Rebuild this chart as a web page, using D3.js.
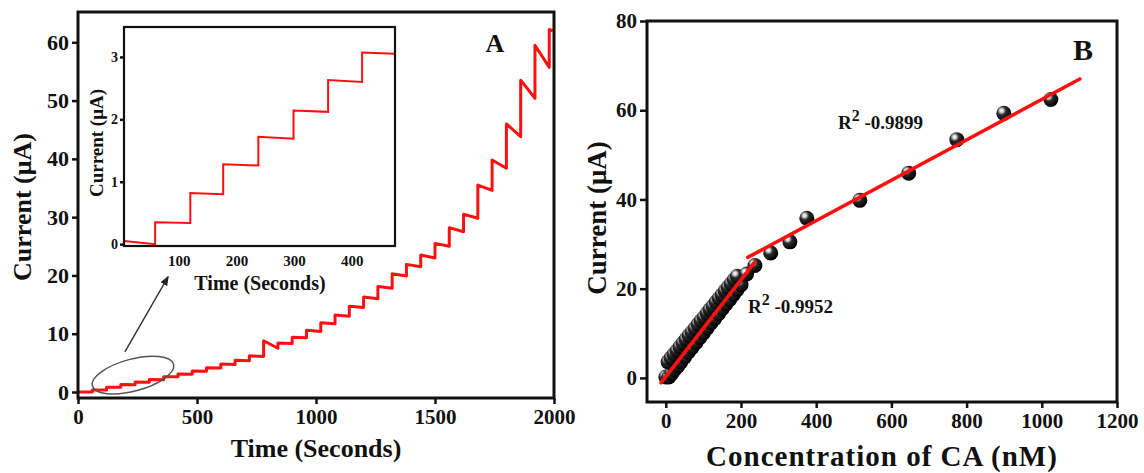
<!DOCTYPE html>
<html>
<head>
<meta charset="utf-8">
<script src="https://cdn.jsdelivr.net/npm/d3@7"></script>
<style>
  body { margin: 0; background: #fff; }
  svg text { font-family: "Liberation Serif", "Times New Roman", serif; font-weight: bold; fill: #111; }
</style>
</head>
<body>
<svg id="chart" width="1144" height="473"></svg>
<script>
// ---- panel A : amperometric response (steps every ~60 s)
const stepTimes = [0, 60, 120, 180, 240, 300, 360, 420, 480, 540, 600, 660, 720, 780, 840, 900, 960,
  1020, 1080, 1140, 1200, 1260, 1320, 1380, 1440, 1500, 1560, 1620, 1680, 1740, 1800, 1860, 1920, 1980];
const stepPeak = [0, 0.35, 0.82, 1.28, 1.72, 2.15, 2.62, 3.07, 3.6, 4.15, 4.8, 5.45, 6.2, 8.8, 8.4, 9.4, 10.6,
  11.9, 13.2, 14.7, 16.3, 18.1, 20.3, 21.9, 23.5, 25.5, 28.2, 30.5, 35.5, 39.8, 46.0, 53.5, 59.5, 62.2];
const stepEnd = [0, 0.35, 0.8, 1.26, 1.69, 2.12, 2.6, 3.04, 3.55, 4.1, 4.7, 5.35, 6.1, 7.5, 8.3, 9.3, 10.4,
  11.7, 13.0, 14.5, 16.0, 17.8, 19.9, 21.5, 23.0, 25.0, 27.5, 29.8, 34.6, 38.4, 43.8, 50.4, 55.7, 62.0];
const runEndA = 1995;
const ticksAx = [0, 500, 1000, 1500, 2000];
const ticksAy = [0, 10, 20, 30, 40, 50, 60];

// inset : first 475 s
const insetTimes = [5, 59, 120, 177, 238, 299, 359, 418];
const insetPeak = [0.05, 0.35, 0.82, 1.28, 1.72, 2.14, 2.63, 3.07];
const insetEnd = [0.0, 0.34, 0.8, 1.26, 1.69, 2.12, 2.6, 3.05];
const insetRunEnd = 475;
const ticksIx = [100, 200, 300, 400];
const ticksIy = [0, 1, 2, 3];

// ---- panel B : calibration
const lowConcA = [0, 8, 16, 24, 32, 40, 50, 60, 70, 80, 90, 100, 110, 120, 130, 140, 150, 160, 170, 180, 190, 200];
const lowCurrA = [0.2, 0.2, 1.0, 1.9, 2.7, 3.6, 4.7, 5.8, 6.8, 7.9, 9.0, 10.1, 11.2, 12.3, 13.3, 14.4, 15.5, 16.6, 17.6, 18.7, 19.8, 20.9];
const lowConcB = [6, 14, 22, 30, 38, 46, 54, 62, 70, 78, 86, 94, 102, 110, 118, 126, 134, 142, 150, 158, 166, 174, 182, 190];
const lowCurrB = [3.6, 4.5, 5.3, 6.1, 7.0, 7.8, 8.6, 9.5, 10.3, 11.1, 12.0, 12.8, 13.6, 14.5, 15.3, 16.1, 17.0, 17.8, 18.6, 19.5, 20.3, 21.1, 22.0, 22.8];
const highConc = [215, 237, 279, 330, 375, 516, 646, 774, 899, 1024];
const highCurr = [23.3, 25.2, 28.0, 30.5, 35.8, 39.8, 45.9, 53.4, 59.3, 62.4];
const fit1 = [[-13, -1.1], [237, 26]];
const fit2 = [[218, 27], [1101, 67]];
const ticksBx = [0, 200, 400, 600, 800, 1000, 1200];
const ticksBy = [0, 20, 40, 60, 80];

const svg = d3.select("#chart");
svg.append("rect").attr("width", 1144).attr("height", 473).attr("fill", "#fff");

const defs = svg.append("defs");
const grad = defs.append("radialGradient").attr("id", "ball")
  .attr("cx", "35%").attr("cy", "32%").attr("r", "70%");
grad.append("stop").attr("offset", "0%").attr("stop-color", "#ffffff");
grad.append("stop").attr("offset", "16%").attr("stop-color", "#d8d8d8");
grad.append("stop").attr("offset", "42%").attr("stop-color", "#2a2a2a");
grad.append("stop").attr("offset", "100%").attr("stop-color", "#000");
defs.append("marker").attr("id", "arrowhead").attr("viewBox", "0 0 10 10")
  .attr("refX", 9).attr("refY", 5).attr("markerWidth", 7).attr("markerHeight", 7)
  .attr("orient", "auto")
  .append("path").attr("d", "M0,1 L10,5 L0,9 z").attr("fill", "#222");

function stepPoints(times, peak, end, lastT) {
  const pts = [];
  times.forEach((t, i) => {
    if (i > 0) pts.push([t, end[i - 1]]);
    pts.push([t, peak[i]]);
    const next = i < times.length - 1 ? times[i + 1] : lastT;
    pts.push([next, end[i]]);
  });
  return pts;
}

function styleAxis(g, size) {
  g.select(".domain").remove();
  g.selectAll(".tick line").attr("stroke", "#111").attr("stroke-width", 2.5);
  g.selectAll(".tick text").style("font-size", size + "px").attr("fill", "#222");
}
const fmt = d3.format("d");

// ================= Panel A
const xA = d3.scaleLinear().domain([0, 2000]).range([78, 554]);
const yA = d3.scaleLinear().domain([-1.03, 65.2]).range([398, 12]);

svg.append("g").attr("transform", "translate(0,398)")
  .call(d3.axisBottom(xA).tickValues(ticksAx).tickSize(6).tickPadding(5).tickFormat(fmt))
  .call(g => styleAxis(g, 21));
svg.append("g").attr("transform", "translate(78,0)")
  .call(d3.axisLeft(yA).tickValues(ticksAy).tickSize(6).tickPadding(3).tickFormat(fmt))
  .call(g => styleAxis(g, 22));

const lineA = d3.line().x(d => xA(d[0])).y(d => yA(d[1]));
svg.append("path").datum(stepPoints(stepTimes, stepPeak, stepEnd, runEndA))
  .attr("d", lineA).attr("fill", "none").attr("stroke", "#ff1010").attr("stroke-width", 3)
  .attr("stroke-linejoin", "round");

svg.append("rect").attr("x", 78).attr("y", 12).attr("width", 476).attr("height", 386)
  .attr("fill", "none").attr("stroke", "#111").attr("stroke-width", 3);

// ellipse + arrow pointing to the inset
svg.append("ellipse").attr("cx", xA(231)).attr("cy", yA(2.9)).attr("rx", 42).attr("ry", 16)
  .attr("transform", `rotate(-15,${xA(231)},${yA(2.9)})`)
  .attr("fill", "none").attr("stroke", "#555").attr("stroke-width", 1.5);
svg.append("line").attr("x1", xA(197)).attr("y1", yA(6.9)).attr("x2", xA(379)).attr("y2", yA(19.8))
  .attr("stroke", "#333").attr("stroke-width", 1.4).attr("marker-end", "url(#arrowhead)");

svg.append("text").attr("x", 316).attr("y", 457).attr("text-anchor", "middle")
  .style("font-size", "26px").text("Time (Seconds)");
svg.append("text").attr("transform", "translate(31,207) rotate(-90)").attr("text-anchor", "middle")
  .style("font-size", "26px").text("Current (\u03bcA)");
svg.append("text").attr("x", 495).attr("y", 52).attr("text-anchor", "middle")
  .style("font-size", "26px").text("A");

// inset
const xI = d3.scaleLinear().domain([5, 475]).range([124, 395]);
const yI = d3.scaleLinear().domain([-0.03, 3.48]).range([246, 27]);
svg.append("rect").attr("x", 124).attr("y", 27).attr("width", 271).attr("height", 219).attr("fill", "#fff");
svg.append("g").attr("transform", "translate(0,246)")
  .call(d3.axisBottom(xI).tickValues(ticksIx).tickSize(0).tickPadding(9).tickFormat(fmt))
  .call(g => styleAxis(g, 15));
svg.append("g").attr("transform", "translate(124,0)")
  .call(d3.axisLeft(yI).tickValues(ticksIy).tickSize(4).tickPadding(2).tickFormat(fmt))
  .call(g => styleAxis(g, 14));
const lineI = d3.line().x(d => xI(d[0])).y(d => yI(d[1]));
svg.append("path").datum(stepPoints(insetTimes, insetPeak, insetEnd, insetRunEnd))
  .attr("d", lineI).attr("fill", "none").attr("stroke", "#ff1010").attr("stroke-width", 2);
svg.append("rect").attr("x", 124).attr("y", 27).attr("width", 271).attr("height", 219)
  .attr("fill", "none").attr("stroke", "#111").attr("stroke-width", 2.2);
svg.append("text").attr("x", 260).attr("y", 290).attr("text-anchor", "middle")
  .style("font-size", "20px").text("Time (Seconds)");
svg.append("text").attr("transform", "translate(103,143) rotate(-90)").attr("text-anchor", "middle")
  .style("font-size", "19px").text("Current (\u03bcA)");

// ================= Panel B
const xB = d3.scaleLinear().domain([-50, 1200]).range([647, 1117]);
const yB = d3.scaleLinear().domain([-5.4, 80]).range([402, 21]);

svg.append("g").attr("transform", "translate(0,402)")
  .call(d3.axisBottom(xB).tickValues(ticksBx).tickSize(6).tickPadding(5).tickFormat(fmt))
  .call(g => styleAxis(g, 21));
svg.append("g").attr("transform", "translate(647,0)")
  .call(d3.axisLeft(yB).tickValues(ticksBy).tickSize(7).tickPadding(3).tickFormat(fmt))
  .call(g => styleAxis(g, 21));

const ballR = 7.5;
const pts = svg.append("g");
[[lowConcA, lowCurrA], [lowConcB, lowCurrB], [highConc, highCurr]].forEach(([cs, is]) => {
  pts.selectAll(null).data(cs.map((c, i) => [c, is[i]])).enter().append("circle")
    .attr("cx", d => xB(d[0])).attr("cy", d => yB(d[1])).attr("r", ballR)
    .attr("fill", "url(#ball)");
});

const lineB = d3.line().x(d => xB(d[0])).y(d => yB(d[1]));
[fit1, fit2].forEach(f => {
  svg.append("path").datum(f).attr("d", lineB).attr("fill", "none")
    .attr("stroke", "#ff1010").attr("stroke-width", 3.6).attr("stroke-linecap", "round");
});

svg.append("rect").attr("x", 647).attr("y", 21).attr("width", 470).attr("height", 381)
  .attr("fill", "none").attr("stroke", "#111").attr("stroke-width", 3);

function r2(x, y, val) {
  const t = svg.append("text").attr("x", x).attr("y", y).style("font-size", "19px");
  t.append("tspan").text("R");
  t.append("tspan").attr("dy", -8).style("font-size", "16px").text("2");
  t.append("tspan").attr("dy", 8).text(" " + val);
}
r2(838, 129, "-0.9899");
r2(748, 313, "-0.9952");

svg.append("text").attr("x", 1083).attr("y", 60).attr("text-anchor", "middle")
  .style("font-size", "30px").text("B");
svg.append("text").attr("x", 882).attr("y", 466).attr("text-anchor", "middle")
  .style("font-size", "29px").style("letter-spacing", "1px").text("Concentration of CA (nM)");
svg.append("text").attr("transform", "translate(606,218) rotate(-90)").attr("text-anchor", "middle")
  .style("font-size", "27px").text("Current (\u03bcA)");
</script>
</body>
</html>
